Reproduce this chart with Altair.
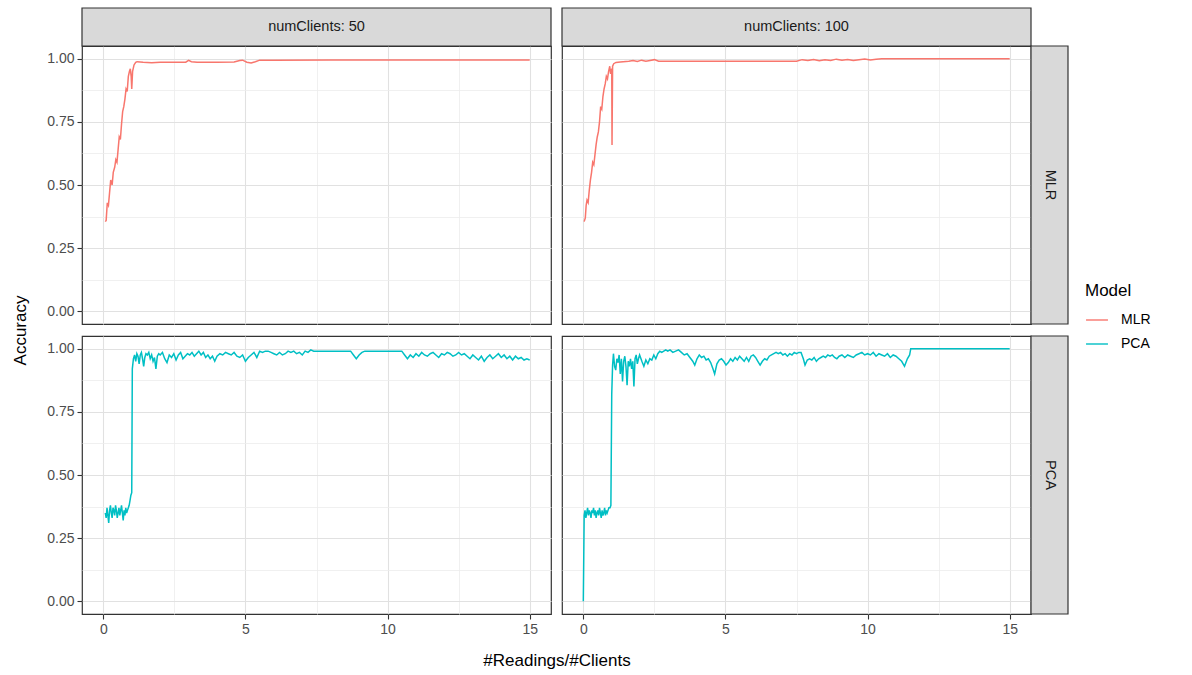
import altair as alt
import pandas as pd

FONT = "Liberation Sans"

models = ["MLR", "PCA"]
model_colors = ["#F8766D", "#00BFC4"]
client_counts = [50, 100]

x_ticks = [0, 2.5, 5, 7.5, 10, 12.5, 15]
y_ticks = [0, 0.125, 0.25, 0.375, 0.5, 0.625, 0.75, 0.875, 1.0]

# (readings per client, accuracy)
mlr_50 = [
    (0.07, 0.355), (0.10, 0.36), (0.14, 0.43), (0.18, 0.42), (0.22, 0.47), (0.26, 0.52),
    (0.31, 0.50), (0.35, 0.55), (0.40, 0.57), (0.44, 0.60), (0.48, 0.59), (0.52, 0.64),
    (0.56, 0.69), (0.60, 0.68), (0.64, 0.74), (0.68, 0.79), (0.72, 0.81), (0.76, 0.84),
    (0.80, 0.88), (0.84, 0.87), (0.88, 0.93), (0.92, 0.95), (0.95, 0.96), (0.98, 0.93),
    (1.00, 0.88), (1.03, 0.95), (1.08, 0.975), (1.14, 0.985), (1.19, 0.988), (1.40, 0.986),
    (1.70, 0.984), (2.00, 0.986), (2.30, 0.986), (2.60, 0.986), (2.90, 0.986), (3.00, 0.993),
    (3.10, 0.988), (3.30, 0.986), (4.00, 0.986), (4.60, 0.987), (4.80, 0.993), (4.90, 0.994),
    (5.05, 0.986), (5.20, 0.983), (5.35, 0.988), (5.50, 0.994), (6.00, 0.994), (8.00, 0.995),
    (10.00, 0.995), (12.00, 0.995), (15.00, 0.995),
]

mlr_100 = [
    (0.03, 0.355), (0.07, 0.37), (0.10, 0.42), (0.13, 0.44), (0.17, 0.43), (0.21, 0.48),
    (0.25, 0.52), (0.29, 0.55), (0.33, 0.59), (0.37, 0.58), (0.41, 0.62), (0.45, 0.66),
    (0.49, 0.69), (0.53, 0.71), (0.57, 0.75), (0.61, 0.81), (0.65, 0.80), (0.69, 0.85),
    (0.73, 0.88), (0.77, 0.90), (0.81, 0.93), (0.85, 0.92), (0.89, 0.95), (0.93, 0.97),
    (0.96, 0.94), (1.00, 0.96), (1.01, 0.658), (1.03, 0.97), (1.07, 0.98), (1.15, 0.985),
    (1.30, 0.987), (1.60, 0.99), (1.75, 0.993), (1.90, 0.989), (2.05, 0.994), (2.20, 0.99),
    (2.35, 0.993), (2.50, 0.996), (2.65, 0.99), (3.00, 0.99), (5.00, 0.99), (7.50, 0.99),
    (7.70, 0.996), (7.90, 0.993), (8.10, 0.997), (8.30, 0.992), (8.50, 0.996), (8.70, 0.993),
    (8.90, 0.998), (9.10, 0.994), (9.30, 0.997), (9.50, 0.993), (9.70, 0.996), (9.90, 0.999),
    (10.10, 0.995), (10.30, 0.998), (10.50, 1.0), (12.00, 1.0), (15.00, 1.0),
]

pca_50 = [
    (0.07, 0.35), (0.10, 0.33), (0.13, 0.37), (0.16, 0.34), (0.19, 0.31), (0.22, 0.36),
    (0.25, 0.38), (0.28, 0.35), (0.31, 0.33), (0.34, 0.37), (0.37, 0.36), (0.40, 0.34),
    (0.43, 0.38), (0.46, 0.36), (0.49, 0.33), (0.52, 0.35), (0.55, 0.37), (0.58, 0.34),
    (0.61, 0.36), (0.64, 0.38), (0.67, 0.35), (0.70, 0.32), (0.73, 0.36), (0.76, 0.34),
    (0.79, 0.37), (0.82, 0.35), (0.85, 0.36), (0.88, 0.37), (0.91, 0.38), (0.94, 0.40),
    (0.97, 0.42), (1.00, 0.43), (1.02, 0.92),
    (1.06, 0.96), (1.10, 0.975), (1.14, 0.95), (1.18, 0.98), (1.22, 0.97), (1.26, 0.94),
    (1.30, 0.975), (1.34, 0.985), (1.38, 0.96), (1.42, 0.93), (1.46, 0.965), (1.50, 0.98),
    (1.55, 0.975), (1.60, 0.985), (1.65, 0.96), (1.70, 0.975), (1.75, 0.95), (1.80, 0.965),
    (1.85, 0.92), (1.90, 0.97), (1.95, 0.98), (2.00, 0.975),
    (2.08, 0.985), (2.16, 0.96), (2.24, 0.945), (2.32, 0.975), (2.40, 0.965), (2.48, 0.98),
    (2.56, 0.955), (2.64, 0.975), (2.72, 0.985), (2.80, 0.96), (2.88, 0.97), (2.96, 0.98),
    (3.04, 0.975), (3.12, 0.985), (3.20, 0.97), (3.28, 0.98), (3.36, 0.99), (3.44, 0.975),
    (3.52, 0.985), (3.60, 0.965), (3.68, 0.975), (3.76, 0.96), (3.84, 0.97), (3.92, 0.95),
    (4.00, 0.97), (4.10, 0.98), (4.20, 0.975), (4.30, 0.985), (4.40, 0.98), (4.50, 0.975),
    (4.60, 0.985), (4.70, 0.97), (4.80, 0.965), (4.90, 0.975), (5.00, 0.95), (5.10, 0.965),
    (5.20, 0.975), (5.30, 0.985), (5.40, 0.965), (5.50, 0.99), (5.60, 0.985), (5.70, 0.99),
    (5.80, 0.99), (5.90, 0.985), (6.00, 0.98), (6.10, 0.975), (6.20, 0.985), (6.30, 0.975),
    (6.40, 0.98), (6.50, 0.99), (6.60, 0.985), (6.70, 0.99), (6.80, 0.98), (6.90, 0.985),
    (7.00, 0.975), (7.10, 0.99), (7.20, 0.985), (7.30, 0.995), (7.40, 0.99),
    (8.70, 0.99), (8.80, 0.975), (8.90, 0.96), (9.00, 0.975), (9.10, 0.985), (9.20, 0.99),
    (10.50, 0.99), (10.60, 0.975), (10.70, 0.96), (10.80, 0.975), (10.90, 0.965), (11.00, 0.98),
    (11.10, 0.97), (11.20, 0.985), (11.30, 0.975), (11.40, 0.97), (11.50, 0.98), (11.60, 0.985),
    (11.70, 0.975), (11.80, 0.965), (11.90, 0.98), (12.00, 0.975), (12.10, 0.985), (12.20, 0.98),
    (12.30, 0.97), (12.40, 0.975), (12.50, 0.985), (12.60, 0.975), (12.70, 0.98), (12.80, 0.97),
    (12.90, 0.96), (13.00, 0.975), (13.10, 0.965), (13.20, 0.955), (13.30, 0.97), (13.40, 0.95),
    (13.50, 0.965), (13.60, 0.975), (13.70, 0.96), (13.80, 0.97), (13.90, 0.98), (14.00, 0.965),
    (14.10, 0.975), (14.20, 0.96), (14.30, 0.97), (14.40, 0.955), (14.50, 0.97), (14.60, 0.96),
    (14.70, 0.965), (14.80, 0.955), (14.90, 0.96), (15.00, 0.955),
]

pca_100 = [
    (0.00, 0.00), (0.03, 0.34), (0.06, 0.36), (0.09, 0.33), (0.12, 0.35), (0.15, 0.37),
    (0.18, 0.34), (0.21, 0.36), (0.24, 0.35), (0.27, 0.33), (0.30, 0.36), (0.33, 0.35),
    (0.36, 0.37), (0.39, 0.34), (0.42, 0.36), (0.45, 0.33), (0.48, 0.35), (0.51, 0.36),
    (0.54, 0.34), (0.57, 0.37), (0.60, 0.35), (0.63, 0.33), (0.66, 0.36), (0.69, 0.34),
    (0.72, 0.35), (0.75, 0.37), (0.78, 0.34), (0.81, 0.36), (0.84, 0.35), (0.87, 0.36),
    (0.90, 0.37), (0.94, 0.37), (0.97, 0.38), (1.00, 0.82), (1.03, 0.935),
    (1.06, 0.98), (1.10, 0.93), (1.14, 0.915), (1.18, 0.96), (1.22, 0.945), (1.26, 0.975),
    (1.30, 0.90), (1.34, 0.96), (1.38, 0.87), (1.42, 0.95), (1.46, 0.97), (1.50, 0.93),
    (1.54, 0.855), (1.58, 0.95), (1.62, 0.93), (1.66, 0.96), (1.70, 0.92), (1.74, 0.95),
    (1.78, 0.85), (1.82, 0.96), (1.86, 0.975), (1.90, 0.94), (1.94, 0.96), (1.98, 0.975),
    (2.06, 0.95), (2.13, 0.93), (2.20, 0.955), (2.27, 0.94), (2.34, 0.96), (2.41, 0.955),
    (2.48, 0.975), (2.55, 0.96), (2.62, 0.98), (2.69, 0.99), (2.76, 0.985), (2.83, 0.99),
    (2.90, 0.995), (2.97, 0.99), (3.05, 0.995), (3.15, 0.985), (3.25, 0.99), (3.35, 0.995),
    (3.45, 0.985), (3.55, 0.975), (3.65, 0.98), (3.75, 0.965), (3.85, 0.95), (3.92, 0.935),
    (4.00, 0.96), (4.08, 0.975), (4.16, 0.965), (4.24, 0.97), (4.32, 0.955), (4.40, 0.96),
    (4.48, 0.945), (4.56, 0.92), (4.62, 0.90), (4.70, 0.94), (4.78, 0.955), (4.86, 0.96),
    (4.94, 0.95), (5.02, 0.935), (5.10, 0.945), (5.18, 0.96), (5.26, 0.95), (5.34, 0.965),
    (5.42, 0.955), (5.50, 0.97), (5.58, 0.96), (5.66, 0.95), (5.74, 0.965), (5.82, 0.95),
    (5.90, 0.97), (5.98, 0.975), (6.06, 0.965), (6.14, 0.95), (6.22, 0.935), (6.30, 0.95),
    (6.38, 0.96), (6.46, 0.955), (6.54, 0.97), (6.62, 0.975), (6.70, 0.98), (6.78, 0.985),
    (6.86, 0.98), (6.94, 0.985), (7.02, 0.975), (7.10, 0.98), (7.18, 0.97), (7.26, 0.98),
    (7.34, 0.975), (7.42, 0.985), (7.50, 0.98), (7.58, 0.985), (7.66, 0.985), (7.74, 0.96),
    (7.80, 0.935), (7.88, 0.955), (7.96, 0.96), (8.04, 0.955), (8.12, 0.965), (8.20, 0.95),
    (8.28, 0.96), (8.36, 0.965), (8.44, 0.97), (8.52, 0.965), (8.60, 0.975), (8.68, 0.97),
    (8.76, 0.975), (8.84, 0.965), (8.92, 0.96), (9.00, 0.97), (9.10, 0.975), (9.20, 0.965),
    (9.30, 0.975), (9.40, 0.97), (9.50, 0.965), (9.60, 0.975), (9.70, 0.98), (9.80, 0.985),
    (9.90, 0.975), (10.00, 0.98), (10.10, 0.975), (10.20, 0.985), (10.30, 0.97), (10.40, 0.98),
    (10.50, 0.975), (10.60, 0.97), (10.70, 0.98), (10.80, 0.965), (10.90, 0.975), (11.00, 0.97),
    (11.10, 0.96), (11.20, 0.95), (11.30, 0.93), (11.40, 0.96), (11.48, 0.975), (11.52, 1.0),
    (15.00, 1.0),
]

series = {
    ("MLR", 50): mlr_50,
    ("MLR", 100): mlr_100,
    ("PCA", 50): pca_50,
    ("PCA", 100): pca_100,
}

frames = []
for (model, clients), pts in series.items():
    frames.append(pd.DataFrame({
        "x": [p[0] for p in pts],
        "acc": [p[1] for p in pts],
        "Model": model,
        "numClients": clients,
    }))
df = pd.concat(frames, ignore_index=True)

# panel geometry (plot area of each facet cell) and strip sizes
W, H = 469, 278
STRIP_TOP = 38
STRIP_SIDE = 37
BORDER = "#333333"

X_MAJOR = "datum.value % 5 === 0"
Y_MAJOR = "(datum.value * 4) % 1 === 0"


def grid_props(test):
    return dict(
        grid=True,
        gridColor={"condition": {"test": test, "value": "#e1e1e1"}, "value": "#ececec"},
        gridWidth={"condition": {"test": test, "value": 1.1}, "value": 0.8},
        domain=False,
        tickColor=BORDER,
        tickSize=5,
        tickWidth=1.1,
        labelColor="#4d4d4d",
        labelFontSize=14,
        labelPadding=3,
        titleFontSize=17,
        titleFontWeight="normal",
        titleColor="#000000",
    )


def x_axis(show, title):
    props = grid_props(X_MAJOR)
    if title:
        extra = dict(title="#Readings/#Clients", titleX=W + 5.5, titleY=46,
                     titleAlign="center", titleBaseline="middle")
    else:
        extra = dict(title=None)
    if show:
        return alt.Axis(values=x_ticks,
                        labelExpr=f"{X_MAJOR} ? datum.label : ''",
                        tickOpacity={"condition": {"test": X_MAJOR, "value": 1}, "value": 0},
                        **props, **extra)
    return alt.Axis(values=x_ticks, labels=False, ticks=False, **props, **extra)


def y_axis(show, title):
    props = grid_props(Y_MAJOR)
    if title:
        extra = dict(title="Accuracy", titleX=-62, titleY=H + 6,
                     titleAlign="center", titleBaseline="middle", titleAngle=-90)
    else:
        extra = dict(title=None)
    if show:
        return alt.Axis(values=y_ticks,
                        labelExpr=f"{Y_MAJOR} ? format(datum.value, '.2f') : ''",
                        tickOpacity={"condition": {"test": Y_MAJOR, "value": 1}, "value": 0},
                        **props, **extra)
    return alt.Axis(values=y_ticks, labels=False, ticks=False, **props, **extra)


color = alt.Color(
    "Model:N",
    scale=alt.Scale(domain=models, range=model_colors),
    legend=alt.Legend(
        title="Model", orient="none", legendX=1003, legendY=237,
        symbolType="stroke", symbolSize=480, symbolStrokeWidth=1.4,
        labelFontSize=14, labelColor="#000000", labelOffset=12,
        titleFontSize=17, titleFontWeight="normal", titleColor="#000000",
        titlePadding=8, rowPadding=5, padding=0,
    ),
)


def panel(model, clients, show_x, show_y, top_label=None, side_label=None,
          x_title=False, y_title=False):
    sub = df[(df["Model"] == model) & (df["numClients"] == clients)]
    line = alt.Chart(sub).mark_line(strokeWidth=1.5).encode(
        x=alt.X("x:Q", scale=alt.Scale(domain=[-0.75, 15.75], nice=False, zero=False),
                axis=x_axis(show_x, x_title)),
        y=alt.Y("acc:Q", scale=alt.Scale(domain=[-0.05, 1.05], nice=False, zero=False),
                axis=y_axis(show_y, y_title)),
        color=color,
    )
    layers = [line]
    if top_label:
        s = alt.Chart(pd.DataFrame({"label": [top_label]}))
        layers.append(s.mark_rect(fill="#d9d9d9", stroke=BORDER, strokeWidth=1.2).encode(
            x=alt.value(0), x2=alt.value(W), y=alt.value(-STRIP_TOP), y2=alt.value(0)))
        layers.append(s.mark_text(fontSize=14.5, color="#1a1a1a").encode(
            x=alt.value(W / 2), y=alt.value(-STRIP_TOP / 2), text="label:N"))
    if side_label:
        s = alt.Chart(pd.DataFrame({"label": [side_label]}))
        layers.append(s.mark_rect(fill="#d9d9d9", stroke=BORDER, strokeWidth=1.2).encode(
            x=alt.value(W), x2=alt.value(W + STRIP_SIDE), y=alt.value(0), y2=alt.value(H)))
        layers.append(s.mark_text(fontSize=14.5, color="#1a1a1a", angle=90).encode(
            x=alt.value(W + STRIP_SIDE / 2), y=alt.value(H / 2), text="label:N"))
    return alt.layer(*layers).properties(width=W, height=H)


tl = panel("MLR", 50, False, True, top_label="numClients: 50", y_title=True)
tr = panel("MLR", 100, False, False, top_label="numClients: 100", side_label="MLR")
bl = panel("PCA", 50, True, True, x_title=True)
br = panel("PCA", 100, True, False, side_label="PCA")

chart = (
    alt.concat(tl, tr, bl, br, columns=2, spacing={"row": 12, "column": 11}, bounds="flush")
    .properties(padding={"left": 10, "top": 6, "right": 5, "bottom": 5}, background="white")
    .configure(font=FONT)
    .configure_view(stroke=BORDER, strokeWidth=1.2)
)

chart.save("out.html", embed_options={"renderer": "svg", "actions": False})
